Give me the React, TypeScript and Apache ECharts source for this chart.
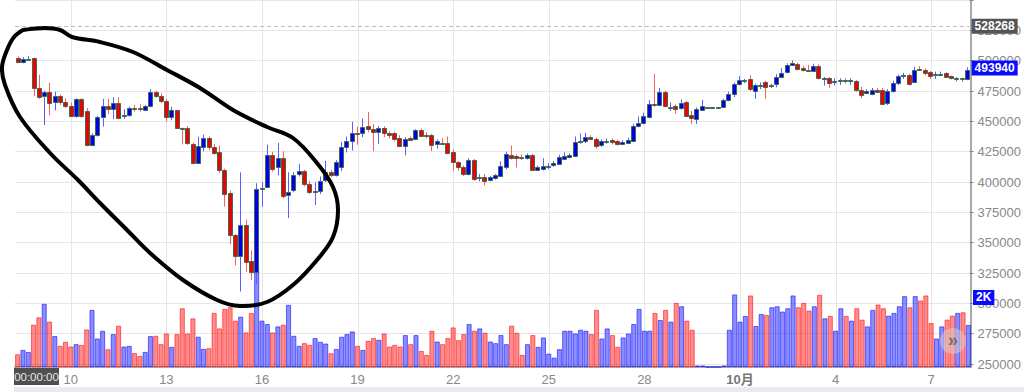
import React, { useEffect, useRef } from 'react';
import * as echarts from 'echarts';

// 4-hour candles, first candle = Sep 8 08:00
const opens = [
  502300, 499000, 501300, 501800, 477800, 470600, 474400, 465800, 470600, 466300,
  462500, 454500, 468000, 458500, 430800, 438900, 453300, 462500, 460400, 465000,
  454800, 455000, 461200, 461000, 459600, 462300, 473900, 471200, 467100, 453700,
  459100, 444300, 444800, 431500, 416000, 428600, 436200, 428600, 424500, 410100,
  391000, 356300, 339400, 364900, 334500, 325900, 394500, 395800, 422200, 412000,
  419500, 389100, 393100, 406600, 409300, 398000, 392300, 392600, 402000, 408400,
  405800, 412000, 429000, 433500, 440300, 440300, 446200, 443400, 441600, 444300,
  440000, 440300, 436200, 429400, 436000, 435400, 442900, 439000, 438700, 431500,
  432500, 432200, 424500, 416500, 412000, 406600, 418100, 403600, 404400, 401800,
  403100, 405200, 412000, 422000, 421300, 421000, 419500, 421900, 410100, 410600,
  413000, 413600, 414700, 419200, 420500, 421300, 432700, 433500, 437100, 435600,
  430200, 433800, 434500, 433800, 431300, 432200, 434000, 446200, 448300, 453700,
  464500, 463600, 474400, 461500, 462400, 461000, 465800, 455600, 452300, 459100,
  461700, 461700, 461700, 461700, 467700, 472500, 480600, 483800, 484600, 474700,
  479900, 482300, 479000, 480600, 486700, 490600, 496800, 497300, 493600, 492000,
  491400, 495400, 485500, 485900, 482600, 483200, 483800, 483300, 483500, 476000,
  473600, 472600, 475800, 475800, 465000, 474700, 481400, 487300, 488100, 482600,
  492800, 492000, 490600, 488400, 488800, 489600, 487300, 485400, 485600, 484700,
];
const closes = [
  499000, 501200, 501600, 477800, 470200, 474400, 465300, 470600, 465800, 462500,
  454500, 468000, 454500, 430800, 438900, 453300, 462300, 459900, 465000, 452800,
  455200, 461200, 460600, 459800, 462500, 473900, 471200, 467100, 453700, 459100,
  444300, 443500, 432200, 416000, 429400, 436200, 428600, 424000, 409700, 390500,
  356000, 339400, 364900, 334000, 325900, 394500, 395200, 422000, 410600, 419500,
  388300, 391800, 405800, 409300, 398000, 391800, 392600, 401200, 408400, 405800,
  416500, 428600, 433500, 440300, 439700, 445600, 443700, 441600, 444300, 440300,
  438700, 435600, 429400, 435400, 434800, 442900, 438100, 438300, 430800, 433500,
  432100, 424000, 416500, 412000, 406600, 418100, 402500, 404000, 401200, 403900,
  405800, 413300, 423300, 419500, 419500, 419700, 422200, 409700, 412600, 413300,
  413400, 416000, 420400, 421300, 422200, 432700, 434000, 436700, 435600, 429400,
  433500, 434100, 433100, 431000, 433000, 434800, 446400, 448800, 454200, 464500,
  463900, 474400, 462500, 461900, 460400, 465000, 454000, 452800, 460400, 462300,
  461700, 461700, 461700, 467700, 472500, 480600, 483800, 484000, 476600, 479900,
  480300, 478500, 479800, 486700, 490000, 496800, 497800, 492800, 492000, 491400,
  495400, 485500, 485900, 481400, 483300, 483800, 483500, 483700, 475500, 471500,
  475000, 475800, 474400, 464500, 474700, 482000, 487300, 488100, 480600, 492000,
  492600, 489600, 487300, 488800, 489200, 486700, 485500, 485600, 484700, 492100,
];
const lows = [
  498000, 497800, 500000, 471000, 468500, 447000, 455000, 459000, 463500, 461000,
  453500, 453000, 453000, 429400, 429400, 437500, 445600, 456000, 451800, 451800,
  452000, 453800, 458000, 458000, 459000, 461500, 469500, 465000, 449800, 451000,
  444000, 431000, 430500, 415500, 415500, 425400, 426000, 422500, 407500, 379700,
  348700, 331300, 309700, 325900, 319200, 316000, 379700, 395000, 408500, 405500,
  386500, 370300, 391500, 404500, 396500, 390000, 381000, 390000, 400000, 404000,
  404500, 409000, 424400, 426000, 430800, 437000, 441000, 425400, 431500, 437000,
  436000, 433500, 428800, 422000, 434000, 434500, 437500, 436000, 425400, 427500,
  430500, 423500, 409300, 409300, 405000, 405500, 401000, 400500, 397200, 400500,
  402000, 404500, 410500, 418500, 412000, 418000, 418500, 409000, 409500, 409500,
  410500, 412500, 414000, 418500, 419500, 420500, 431500, 432000, 434500, 427600,
  429000, 431500, 431000, 430000, 430500, 431500, 433500, 445000, 447500, 452500,
  462000, 462500, 461500, 458500, 456500, 459500, 453500, 447800, 447800, 458500,
  461700, 461700, 461700, 461000, 466500, 470000, 479500, 481500, 475000, 468500,
  476600, 468500, 477500, 478000, 485500, 489500, 496000, 492000, 491000, 491000,
  490500, 484500, 479500, 477500, 479500, 480000, 481000, 480000, 474500, 469000,
  472500, 471500, 473500, 463500, 463500, 473500, 480000, 485000, 479500, 481500,
  491500, 488000, 485000, 485000, 487500, 486000, 484500, 483000, 482500, 484000,
];
const highs = [
  503500, 503000, 503800, 502500, 488300, 475200, 481900, 474400, 472000, 469000,
  465500, 469000, 469000, 461000, 440000, 454500, 468500, 468500, 469800, 469800,
  460000, 462000, 463500, 464000, 463500, 476600, 475000, 473000, 468500, 462000,
  459500, 444800, 446000, 432500, 437500, 439000, 437500, 431500, 430000, 411000,
  393000, 357000, 408000, 369000, 343600, 399000, 399800, 430800, 425000, 432200,
  425400, 408000, 408000, 415000, 410000, 400500, 399800, 404500, 417500, 410000,
  418000, 433000, 437500, 449500, 445600, 452300, 457700, 447800, 446000, 446000,
  442000, 441500, 438500, 437000, 437500, 443500, 444000, 441000, 439500, 435000,
  436000, 437500, 427000, 417000, 413500, 419500, 419000, 406500, 406600, 405000,
  406600, 417000, 425000, 430000, 422500, 422800, 423500, 423000, 413500, 419600,
  415500, 417500, 422500, 424500, 423500, 437500, 440000, 440500, 438500, 436700,
  435000, 436000, 436000, 435000, 434500, 436500, 448000, 454000, 457000, 467500,
  489200, 477600, 475500, 465500, 464000, 468000, 466500, 458500, 461500, 467700,
  461700, 461700, 461700, 468500, 474500, 482000, 487300, 485000, 487900, 481000,
  482000, 483500, 481000, 488800, 493800, 497800, 500200, 498500, 495500, 496500,
  497500, 497000, 486500, 486500, 485500, 485500, 485500, 485500, 484000, 478500,
  476500, 477500, 477500, 477500, 476500, 483500, 488500, 490000, 489000, 495000,
  495500, 493500, 491500, 491000, 491000, 490500, 487800, 486500, 486000, 494500,
];
const volumes = [
  368, 493, 435, 1218, 1430, 1818, 1305, 890, 609, 725,
  589, 658, 638, 1082, 1644, 821, 1044, 513, 948, 1189,
  589, 609, 406, 319, 435, 890, 899, 658, 966, 580,
  948, 1691, 966, 1401, 870, 522, 542, 1557, 1111, 1673,
  1720, 1334, 1450, 995, 1557, 2842, 1334, 1237, 995, 1169,
  1218, 1789, 899, 609, 687, 638, 832, 725, 676, 397,
  520, 870, 948, 1024, 609, 493, 754, 832, 783, 966,
  589, 638, 589, 919, 658, 919, 464, 348, 1044, 734,
  658, 832, 1140, 774, 948, 1237, 1044, 1111, 986, 734,
  687, 919, 658, 1189, 986, 348, 658, 919, 580, 851,
  387, 271, 513, 1044, 1044, 966, 1073, 1044, 948, 1644,
  821, 1111, 919, 580, 851, 966, 1237, 1673, 1044, 1044,
  1557, 1353, 1644, 1305, 1846, 1749, 1334, 1073, 45, 45,
  0, 0, 0, 45, 1073, 2088, 1305, 1469, 2059, 1179,
  1527, 1498, 1720, 1749, 1595, 1691, 2059, 1720, 1846, 1624,
  1749, 2078, 1401, 1469, 1044, 1691, 1469, 1334, 1691, 1363,
  1169, 1644, 1798, 1691, 1479, 1557, 1749, 2040, 1720, 2040,
  1914, 2059, 1266, 821, 1169, 1363, 1479, 1557, 1575, 1209,
];

const tickIndex = [10, 28, 46, 64, 82, 100, 118, 136, 154, 172];
const tickLabels = ['10', '13', '16', '19', '22', '25', '28', '10月', '4', '7'];

const peakPrice = 528268;
const lastPrice = 493940;
const lastVolume = 2000;
const lastVolumeLabel = '2K';
const cursorTimeLabel = '00:00:00';

const START = Date.UTC(2020, 8, 8, 8);
const categories = opens.map((_, i) => {
  const d = new Date(START + i * 4 * 3600 * 1000);
  return `${d.getUTCMonth() + 1}/${d.getUTCDate()} ${String(d.getUTCHours()).padStart(2, '0')}:00`;
});

// hand-drawn loop (annotation), pixel coordinates
const loopPoints = [
  [23, 30], [45, 28], [60, 30], [72, 37], [100, 42], [133, 52], [167, 70], [200, 88],
  [233, 110], [267, 127], [293, 138], [317, 163], [333, 187], [338, 210], [333, 237],
  [317, 260], [293, 285], [267, 302], [240, 306], [217, 300], [183, 280], [150, 253],
  [127, 230], [100, 203], [78, 180], [50, 153], [20, 117], [5, 85], [2, 67], [7, 50],
  [14, 37], [23, 30],
];

const FONT = '"Liberation Sans", Arial, "Noto Sans CJK JP", sans-serif';
const RED = '#f00000';
const BLUE = '#0000ee';
const RED_WICK = '#ff5c5c';
const BLUE_WICK = '#5c5cff';
const BODY_BORDER = '#3e6b50';
const LABEL_BLUE = '#0a0aff';

export default function App() {
  const ref = useRef<HTMLDivElement>(null);
  useEffect(() => {
    const chart = echarts.init(ref.current!, null, { renderer: 'svg' });
    const candleData = opens.map((o, i) => [i, o, closes[i], lows[i], highs[i]]);
    const volData = volumes.map((v, i) => {
      const up = closes[i] >= opens[i];
      return {
        value: v,
        itemStyle: up
          ? { color: 'rgba(0,0,255,0.45)', borderColor: 'rgba(0,0,255,0.55)', borderWidth: 1 }
          : { color: 'rgba(255,0,0,0.45)', borderColor: 'rgba(255,0,0,0.55)', borderWidth: 1 },
      };
    });
    const markLabel = (bg: string) => ({
      show: true,
      position: 'end',
      distance: 2,
      color: '#fff',
      backgroundColor: bg,
      fontWeight: 'bold',
      fontSize: 12,
      fontFamily: FONT,
      padding: [2, 3, 1, 3],
    });
    const option: any = {
      animation: false,
      backgroundColor: '#fff',
      textStyle: { fontFamily: FONT },
      grid: [
        { left: 15, right: 53, top: -8, bottom: 28 },
        { left: 15, right: 53, top: 0, bottom: 25 },
      ],
      xAxis: [
        { type: 'category', gridIndex: 0, data: categories, boundaryGap: true, show: false },
        {
          type: 'category', gridIndex: 1, data: categories, boundaryGap: true,
          axisLine: { lineStyle: { color: '#a6a6a6', width: 2 } },
          axisTick: { show: false },
          splitLine: { show: false },
          axisLabel: {
            interval: (i: number) => tickIndex.includes(i),
            formatter: (_v: string, i: number) => {
              const k = tickIndex.indexOf(i);
              if (k < 0) return '';
              const t = tickLabels[k];
              return t.includes('月') ? `{m|${t}}` : t;
            },
            color: '#888', fontSize: 13, margin: 6, fontFamily: FONT,
            rich: { m: { fontWeight: 'bold', color: '#777', fontSize: 13, fontFamily: FONT } },
          },
        },
      ],
      yAxis: [
        {
          type: 'value', gridIndex: 0, position: 'right', min: 250000, max: 550000, interval: 25000,
          axisLine: { show: false },
          axisTick: { show: true, length: 4, lineStyle: { color: '#888' } },
          axisLabel: {
            color: '#888', fontSize: 13, margin: 8, fontFamily: FONT,
            formatter: (v: number) => (v >= 550000 ? '' : String(v)),
          },
          splitLine: { lineStyle: { color: '#e6e6e6', width: 1 } },
        },
        {
          type: 'value', gridIndex: 1, position: 'right', min: 0, max: 10560,
          axisLine: { show: true, lineStyle: { color: '#8c8c8c', width: 1.5 } },
          axisTick: { show: false }, axisLabel: { show: false }, splitLine: { show: false },
        },
      ],
      series: [
        {
          type: 'custom', name: 'vgrid', xAxisIndex: 1, yAxisIndex: 1, z: 0, silent: true,
          data: tickIndex.map((i) => [i, 0]),
          encode: { x: 0, y: 1 },
          renderItem: (params: any, api: any) => {
            const x = Math.round(api.coord([api.value(0), 0])[0]) + 0.5;
            const cs = params.coordSys;
            return {
              type: 'line',
              shape: { x1: x, y1: cs.y, x2: x, y2: cs.y + cs.height },
              style: { stroke: '#e6e6e6', lineWidth: 1 },
            };
          },
        },
        {
          type: 'bar', name: 'volume', xAxisIndex: 1, yAxisIndex: 1, z: 1,
          data: volData, barCategoryGap: '4%', silent: true,
          markLine: {
            silent: true, symbol: ['none', 'none'],
            lineStyle: { color: 'rgba(0,0,0,0)', width: 1 },
            label: { ...markLabel(LABEL_BLUE), formatter: lastVolumeLabel },
            data: [{ yAxis: lastVolume }],
          },
        },
        {
          type: 'custom', name: 'price', xAxisIndex: 0, yAxisIndex: 0, z: 3, clip: true, silent: true,
          data: candleData,
          encode: { x: 0, y: [1, 2, 3, 4] },
          renderItem: (_params: any, api: any) => {
            const idx = api.value(0);
            const o = api.value(1), c = api.value(2), l = api.value(3), h = api.value(4);
            const pO = api.coord([idx, o]);
            const yC = api.coord([idx, c])[1];
            const yL = api.coord([idx, l])[1];
            const yH = api.coord([idx, h])[1];
            const x = Math.round(pO[0]);
            const up = c >= o;
            const top = Math.round(Math.min(pO[1], yC));
            const bot = Math.round(Math.max(pO[1], yC));
            return {
              type: 'group',
              children: [
                {
                  type: 'line',
                  shape: { x1: x + 0.5, y1: yH, x2: x + 0.5, y2: yL },
                  style: { stroke: up ? BLUE_WICK : RED_WICK, lineWidth: 1 },
                },
                {
                  type: 'rect',
                  shape: { x: x - 1.5, y: top + 0.5, width: 4, height: Math.max(bot - top, 1) },
                  style: { fill: up ? BLUE : RED, stroke: BODY_BORDER, lineWidth: 1 },
                },
              ],
            };
          },
        },
        {
          type: 'line', name: 'markers', xAxisIndex: 0, yAxisIndex: 0, z: 4, silent: true,
          data: closes, showSymbol: false, symbol: 'none',
          lineStyle: { color: 'rgba(0,0,0,0)', width: 0 },
          markLine: {
            silent: true, symbol: ['none', 'none'],
            data: [
              {
                yAxis: peakPrice,
                lineStyle: { color: '#bdbdbd', width: 1, type: [4, 3] },
                label: { ...markLabel('#555555'), formatter: String(peakPrice) },
              },
              {
                yAxis: lastPrice,
                lineStyle: { color: 'rgba(0,0,0,0)', width: 1 },
                label: { ...markLabel(LABEL_BLUE), formatter: String(lastPrice) },
              },
            ],
          },
        },
      ],
      graphic: [
        { type: 'rect', silent: true, z: 1, shape: { x: 14, y: 387, width: 1010, height: 5 }, style: { fill: '#e9ebef' } },
        { type: 'rect', silent: true, z: 50, shape: { x: 14, y: 368, width: 45, height: 17 }, style: { fill: '#4f4f4f' } },
        {
          type: 'text', silent: true, z: 51, x: 36.5, y: 377,
          style: { text: cursorTimeLabel, fill: '#e8e8e8', font: `11.5px ${FONT}`, align: 'center', verticalAlign: 'middle' },
        },
        { type: 'circle', silent: true, z: 50, shape: { cx: 953, cy: 341, r: 13 }, style: { fill: 'rgba(215,205,205,0.55)' } },
        {
          type: 'text', silent: true, z: 51, x: 953, y: 340,
          style: { text: '»', fill: '#6e6e6e', font: `bold 18px ${FONT}`, align: 'center', verticalAlign: 'middle' },
        },
        {
          type: 'polyline', silent: true, z: 100,
          shape: { points: loopPoints, smooth: 0.35 },
          style: { stroke: '#000', lineWidth: 4, fill: 'none', lineJoin: 'round', lineCap: 'round' },
        },
      ],
    };
    chart.setOption(option);
    return () => chart.dispose();
  }, []);
  return (
    <div
      ref={ref}
      style={{ position: 'fixed', left: 0, top: 0, width: 1024, height: 392, background: '#fff' }}
    />
  );
}
